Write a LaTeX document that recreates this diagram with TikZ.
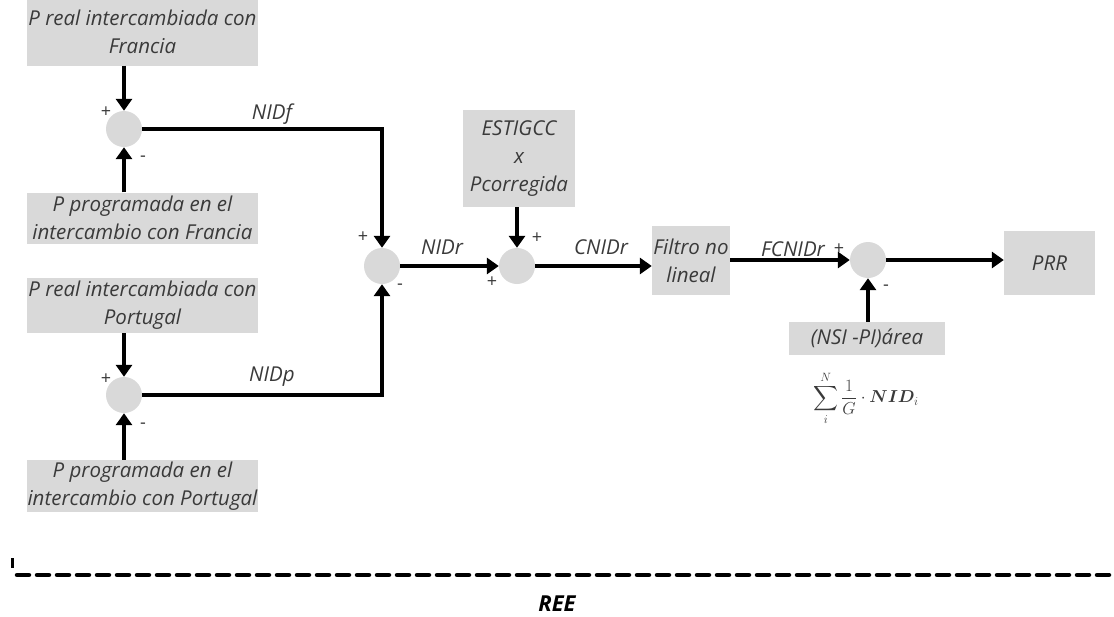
\documentclass[tikz,border=0pt]{standalone}
\usepackage{fontspec}
\usepackage{amsmath}
\usepackage{bm}
\setmainfont{Open Sans}
\usetikzlibrary{arrows.meta}
\definecolor{boxgray}{HTML}{D9D9D9}
\definecolor{txtgray}{HTML}{3A3A3A}
\begin{document}
\begin{tikzpicture}[x=1pt,y=-1pt,
  blk/.style={fill=boxgray,draw=none,inner sep=0pt,align=center,
    font=\fontsize{20.5}{28}\selectfont\itshape,text=txtgray},
  sumnode/.style={circle,fill=boxgray,draw=none,minimum size=36pt,inner sep=0pt},
  sig/.style={font=\fontsize{18}{19}\selectfont,text=txtgray,inner sep=0pt},
  lbl/.style={font=\fontsize{20.5}{22}\selectfont\itshape,text=txtgray,inner sep=0pt},
  flow/.style={line width=3.7pt,-{Triangle[length=12pt,width=16pt]}}]
\useasboundingbox (0,0) rectangle (1114,616);

% input blocks on the left
\node[blk,minimum width=231pt,minimum height=67pt] (rf) at (142.5,32) {P real intercambiada con\\Francia};
\node[blk,minimum width=231pt,minimum height=51pt] (pf) at (142.5,218) {P programada en el\\intercambio con Francia};
\node[blk,minimum width=231pt,minimum height=55pt] (rp) at (142.5,305.5) {P real intercambiada con\\Portugal};
\node[blk,minimum width=231pt,minimum height=52pt] (pp) at (142.5,486) {P programada en el\\intercambio con Portugal};

% summing junctions
\node[sumnode] (sf) at (124,129) {};
\node[sumnode] (sp) at (124,395) {};
\node[sumnode] (sr) at (382,266) {};
\node[sumnode] (sc) at (517,266) {};
\node[sumnode] (sa) at (868,260) {};

% remaining blocks
\node[blk,minimum width=112pt,minimum height=97pt] (est) at (519,158.5) {ESTIGCC\\x\\Pcorregida};
\node[blk,minimum width=78pt,minimum height=69pt] (fil) at (691,260.5) {Filtro no\\lineal};
\node[blk,minimum width=91pt,minimum height=64pt] (prr) at (1049.5,263) {PRR};
\node[blk,minimum width=156pt,minimum height=33pt] (nsi) at (867,338.5) {(NSI -PI)área};

% Francia branch
\draw[flow] (rf.south -| sf) -- (sf.north);
\draw[flow] (pf.north -| sf) -- (sf.south);
\node[sig] at (106,112) {+};
\node[sig] at (143,159) {-};
\draw[flow] (sf.east) -| (sr.north);
\node[lbl] at (272,114) {NIDf};

% Portugal branch
\draw[flow] (rp.south -| sp) -- (sp.north);
\draw[flow] (pp.north -| sp) -- (sp.south);
\node[sig] at (106,379) {+};
\node[sig] at (143,426) {-};
\draw[flow] (sp.east) -| (sr.south);
\node[lbl] at (272,377) {NIDp};

% NIDr junction
\node[sig] at (363,237) {+};
\node[sig] at (400,287) {-};
\draw[flow] (sr.east) -- (sc.west);
\node[lbl] at (442,247) {NIDr};

% correction junction
\draw[flow] (est.south -| sc) -- (sc.north);
\node[sig] at (537,238) {+};
\node[sig] at (492,282) {+};
\draw[flow] (sc.east) -- (sc.east -| fil.west);
\node[lbl] at (601,247) {CNIDr};

% area junction
\draw[flow] (fil.east |- sa) -- (sa.west);
\node[lbl] at (793,249) {FCNIDr};
\node[sig] at (839,249) {+};
\draw[flow] (nsi.north -| sa) -- (sa.south);
\node[sig] at (886,288) {-};
\draw[flow] (sa.east) -- (sa.east -| prr.west);

\node[inner sep=0pt,text=txtgray] (eq) at (866,398)
  {\fontsize{17}{18}\selectfont$\displaystyle\sum_{i}^{N}\frac{1}{G}\cdot\bm{NID}_{i}$};

% boundary of the REE domain
\coordinate (tickt) at (12,558);
\coordinate (tickb) at (12,568);
\coordinate (dl) at (17,575);
\coordinate (dr) at (1114,575);
\draw[line width=3pt] (tickt) -- (tickb);
\draw[line width=4.5pt,line cap=round,dash pattern=on 12pt off 8pt] (dl) -- (dr);
\node[font=\fontsize{22}{24}\selectfont\bfseries\itshape,inner sep=0pt] (ree) at (557,604) {REE};
\end{tikzpicture}
\end{document}
